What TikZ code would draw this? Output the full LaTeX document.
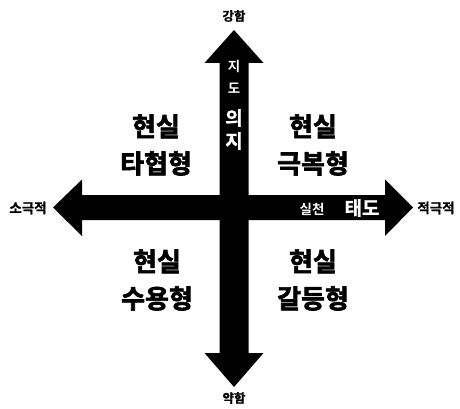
\documentclass[tikz,border=0pt]{standalone}
\usepackage{fontspec}
\setmainfont{Noto Sans CJK KR Bold}
\newfontfamily\heavy{Noto Sans CJK KR Bold}[FakeBold=2.5]
\newfontfamily\semiheavy{Noto Sans CJK KR Bold}[FakeBold=1]
\begin{document}
\begin{tikzpicture}[x=1pt,y=-1pt,
  quad/.style={font=\fontsize{26}{37}\selectfont\heavy, align=center, text=black},
  sideV/.style={font=\fontsize{12.5}{14}\selectfont\semiheavy, text=black},
  sideH/.style={font=\fontsize{13.5}{15}\selectfont\semiheavy, text=black},
  inA/.style={font=\fontsize{13.5}{16}\selectfont, text=white},
  inB/.style={font=\fontsize{19}{21}\selectfont\semiheavy, text=white}]
\useasboundingbox[fill=white] (0,0) rectangle (460,409);
% vertical double arrow
\fill[black] (234,30) -- (263.5,63) -- (248.5,63) -- (248.5,353) -- (263.5,353)
  -- (234,387) -- (204.5,353) -- (219.5,353) -- (219.5,63) -- (204.5,63) -- cycle;
% horizontal double arrow
\fill[black] (53,207.5) -- (82,179.5) -- (82,195) -- (385,195) -- (385,179.5)
  -- (413,207.5) -- (385,236) -- (385,220) -- (82,220) -- (82,236) -- cycle;
% end labels
\node[sideV] (top) at (234,16) {강함};
\node[sideV] (bot) at (234,398) {약함};
\node[sideH] (lft) at (28,208) {소극적};
\node[sideH] (rgt) at (436,208) {적극적};
% texts inside arrows
\node[inA] (v1) at (234,66) {지};
\node[inA] (v2) at (234,88) {도};
\node[inB] (v3) at (234,118) {의};
\node[inB] (v4) at (234,141) {지};
\node[inA] (h1) at (312,209) {실천};
\node[inB] (h2) at (362,208) {태도};
% quadrants
\node[quad] (q1) at (156,145) {현실\\타협형};
\node[quad] (q2) at (313,145) {현실\\극복형};
\node[quad] (q3) at (157,280) {현실\\수용형};
\node[quad] (q4) at (313,280) {현실\\갈등형};
\end{tikzpicture}
\end{document}
